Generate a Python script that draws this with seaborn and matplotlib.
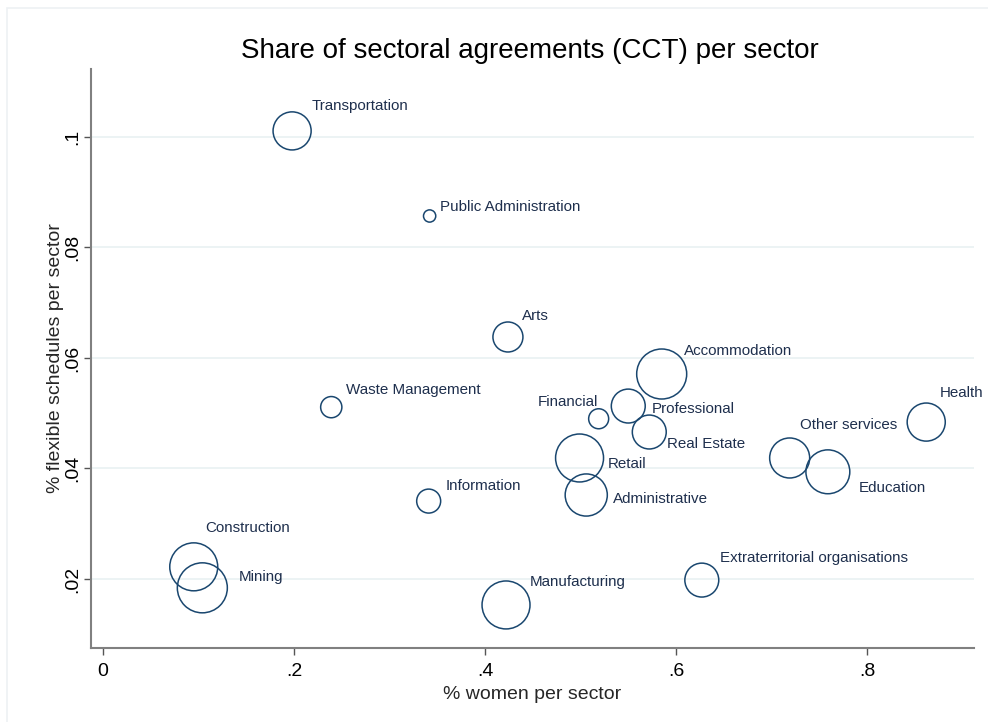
import numpy as np
import pandas as pd
import matplotlib
matplotlib.use("Agg")
import matplotlib.pyplot as plt
import seaborn as sns

# values
sectors = ['Transportation', 'Public Administration', 'Arts', 'Accommodation',
           'Financial', 'Professional', 'Real Estate', 'Retail', 'Administrative',
           'Other services', 'Education', 'Health', 'Waste Management', 'Information',
           'Construction', 'Mining', 'Manufacturing', 'Extraterritorial organisations']
women_share = [0.198, 0.342, 0.424, 0.585, 0.519, 0.550, 0.572, 0.499, 0.506,
               0.719, 0.759, 0.862, 0.239, 0.341, 0.095, 0.104, 0.422, 0.627]
flex_share = [0.1011, 0.0857, 0.0638, 0.0571, 0.0490, 0.0513, 0.0466, 0.0419, 0.0352,
              0.0419, 0.0394, 0.0484, 0.0511, 0.0341, 0.0222, 0.0184, 0.0153, 0.0198]
cct_share = [0.58, 0.06, 0.36, 1.00, 0.16, 0.46, 0.46, 0.92, 0.71,
             0.64, 0.77, 0.58, 0.18, 0.23, 0.92, 1.00, 0.92, 0.46]

xticks = [0, 0.2, 0.4, 0.6, 0.8]
xtick_labels = ['0', '.2', '.4', '.6', '.8']
yticks = [0.02, 0.04, 0.06, 0.08, 0.1]
ytick_labels = ['.02', '.04', '.06', '.08', '.1']

# label placement (pixel offsets from marker centre, horizontal alignment)
label_pos = {
    'Transportation': (20, 25, 'left'),
    'Public Administration': (10, 9, 'left'),
    'Arts': (14, 21, 'left'),
    'Accommodation': (22, 23, 'left'),
    'Financial': (-1, 17, 'right'),
    'Professional': (23, -3, 'left'),
    'Real Estate': (18, -12, 'left'),
    'Retail': (28, -6, 'left'),
    'Administrative': (27, -4, 'left'),
    'Other services': (10, 33, 'left'),
    'Education': (31, -16, 'left'),
    'Health': (14, 29, 'left'),
    'Waste Management': (15, 17, 'left'),
    'Information': (17, 15, 'left'),
    'Construction': (12, 39, 'left'),
    'Mining': (36, 11, 'left'),
    'Manufacturing': (24, 23, 'left'),
    'Extraterritorial organisations': (18, 22, 'left'),
}

df = pd.DataFrame({'sector': sectors, 'women': women_share,
                   'flex': flex_share, 'cct': cct_share})

sns.set_theme(style='white')
plt.rcParams['font.family'] = ['Liberation Sans', 'DejaVu Sans']

navy = '#1a476f'
fig = plt.figure(figsize=(9.88, 7.22), dpi=100)
ax = fig.add_axes([0.0918, 0.1025, 0.894, 0.8019])

sns.scatterplot(data=df, x='women', y='flex', size='cct', sizes=(0, 1296),
                size_norm=(0, 1.0), legend=False, ax=ax,
                facecolor='none', edgecolor=navy, linewidth=1.1)

for _, row in df.iterrows():
    dx, dy, ha = label_pos[row['sector']]
    ax.annotate(row['sector'], (row['women'], row['flex']), xytext=(dx, dy),
                textcoords='offset pixels', ha=ha, va='center',
                fontsize=10.9, color='#1e2f4d')

ax.set_xlim(-0.0129, 0.912)
ax.set_ylim(0.00751, 0.1123)
ax.set_xticks(xticks)
ax.set_xticklabels(xtick_labels)
ax.set_yticks(yticks)
ax.set_yticklabels(ytick_labels, rotation=90, va='center')
ax.tick_params(axis='both', which='major', direction='out', length=5, width=1,
               color='#555555', labelsize=14, labelcolor='black',
               left=True, bottom=True)
ax.tick_params(axis='x', pad=6)
ax.tick_params(axis='y', pad=2)

ax.yaxis.grid(True, color='#eaf2f3', linewidth=1.3)
ax.xaxis.grid(False)
ax.set_axisbelow(True)
for side in ['top', 'right']:
    ax.spines[side].set_visible(False)
for side in ['left', 'bottom']:
    ax.spines[side].set_color('#808080')
    ax.spines[side].set_linewidth(1.5)

ax.set_xlabel('% women per sector', fontsize=14, labelpad=4)
ax.set_ylabel('% flexible schedules per sector', fontsize=14, labelpad=0)
fig.text(0.5365, 0.93, 'Share of sectoral agreements (CCT) per sector',
         ha='center', va='center', fontsize=20, color='black')

# faint outer frame of the graph region
fig.patches.append(plt.Rectangle((7 / 988, -0.05), 1.1, (722 - 8) / 722 + 0.05,
                                 transform=fig.transFigure, fill=False,
                                 edgecolor='#edf1f4', linewidth=1.2))

fig.savefig('out.png', dpi=100)
